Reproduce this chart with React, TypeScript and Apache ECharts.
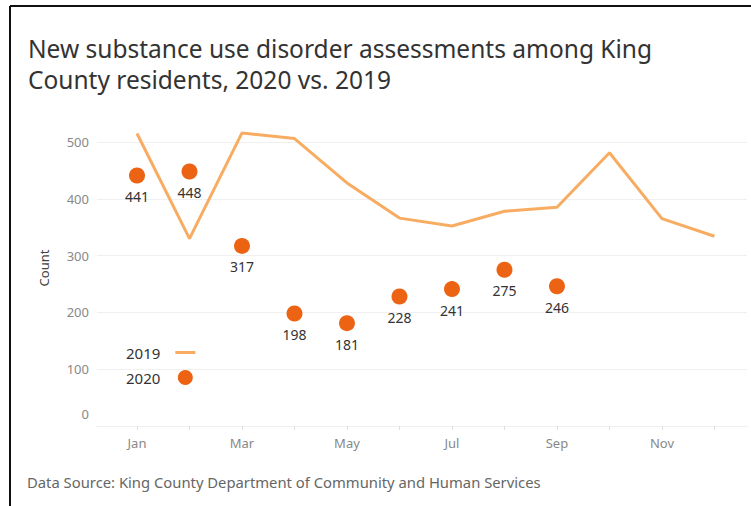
import React, { useEffect, useRef } from "react";
import * as echarts from "echarts";

const months = ["Jan", "Feb", "Mar", "Apr", "May", "Jun", "Jul", "Aug", "Sep", "Oct", "Nov", "Dec"];
const values2019 = [515, 330, 516, 506, 428, 366, 352, 378, 385, 481, 365, 334];
const values2020 = [441, 448, 317, 198, 181, 228, 241, 275, 246];
const yTicks = [0, 100, 200, 300, 400, 500];
const monthLabelIdx = [0, 2, 4, 6, 8, 10];

const FONT = "'Noto Sans', 'Open Sans', sans-serif";

export default function App() {
  const ref = useRef<HTMLDivElement>(null);
  useEffect(() => {
    if (!ref.current) return;
    const chart = echarts.init(ref.current, undefined, { renderer: "svg" });
    chart.setOption({
      animation: false,
      backgroundColor: "#ffffff",
      textStyle: { fontFamily: FONT },
      title: {
        text: "New substance use disorder assessments among King\nCounty residents, 2020 vs. 2019",
        left: 23,
        top: 28,
        textStyle: { fontFamily: FONT, fontSize: 24.5, fontWeight: "normal", color: "#333333", lineHeight: 31 },
      },
      legend: {
        orient: "vertical",
        left: 121,
        top: 340,
        align: "right",
        itemWidth: 20,
        itemHeight: 15,
        itemGap: 10,
        textStyle: { fontFamily: FONT, fontSize: 15, color: "#333333", padding: [0, 10, 0, 0] },
        data: [
          { name: "2019", icon: "path://M0,0 H20 V3 H0 Z" },
          { name: "2020", icon: "circle" },
        ],
      },
      grid: { left: 97, right: 4, top: 142, bottom: 80, containLabel: false },
      xAxis: {
        type: "value",
        min: -0.762,
        max: 11.62,
        splitLine: { show: false },
        axisLine: { show: true, lineStyle: { color: "#eeeeee", width: 1 } },
        axisTick: { show: true, customValues: months.map((_, i) => i), length: 4, lineStyle: { color: "#e0e0e0" } },
        axisLabel: {
          customValues: monthLabelIdx,
          formatter: (v: number) => months[Math.round(v)] ?? "",
          color: "#888888",
          fontSize: 13,
          margin: 10,
          fontFamily: FONT,
        },
      },
      yAxis: {
        type: "value",
        min: 0,
        max: 500,
        interval: 100,
        axisLine: { show: false },
        axisTick: { show: false },
        splitLine: { show: true, lineStyle: { color: "#f0f0f0", width: 1 } },
        axisLabel: {
          color: "#888888",
          fontSize: 13,
          margin: 8,
          fontFamily: FONT,
          formatter: (v: number) => (v === yTicks[0] ? "{z|" + v + "}" : String(v)),
          rich: { z: { color: "#888888", fontSize: 13, fontFamily: FONT, padding: [0, 0, 24, 0] } },
        },
      },
      series: [
        {
          name: "2019",
          type: "line",
          clip: false,
          symbol: "none",
          data: values2019.map((v, i) => [i, v]),
          lineStyle: { color: "#f8ac62", width: 3 },
          itemStyle: { color: "#f8ac62" },
          z: 2,
        },
        {
          name: "2020",
          type: "scatter",
          symbolSize: 16,
          data: values2020.map((v, i) => [i, v]),
          itemStyle: { color: "#ec6413", opacity: 1 },
          label: {
            show: true,
            position: "bottom",
            distance: 6,
            formatter: (p: any) => String(p.value[1]),
            color: "#333333",
            fontSize: 14,
            fontFamily: FONT,
          },
          z: 3,
        },
      ],
      graphic: [
        {
          type: "text",
          x: 44,
          y: 268,
          rotation: Math.PI / 2,
          style: { text: "Count", fontSize: 13, fontFamily: FONT, fill: "#444444", align: "center", verticalAlign: "middle" },
        },
        {
          type: "text",
          x: 27,
          y: 482,
          style: { text: "Data Source: King County Department of Community and Human Services", fontSize: 14.8, fontFamily: FONT, fill: "#666666", align: "left", verticalAlign: "middle" },
        },
        { type: "line", shape: { x1: 10, y1: 6, x2: 751, y2: 6 }, style: { stroke: "#111111", lineWidth: 2 } },
        { type: "line", shape: { x1: 10, y1: 6, x2: 10, y2: 506 }, style: { stroke: "#111111", lineWidth: 2 } },
      ],
    });
    return () => chart.dispose();
  }, []);
  return <div ref={ref} style={{ position: "fixed", left: 0, top: 0, width: 751, height: 506 }} />;
}
